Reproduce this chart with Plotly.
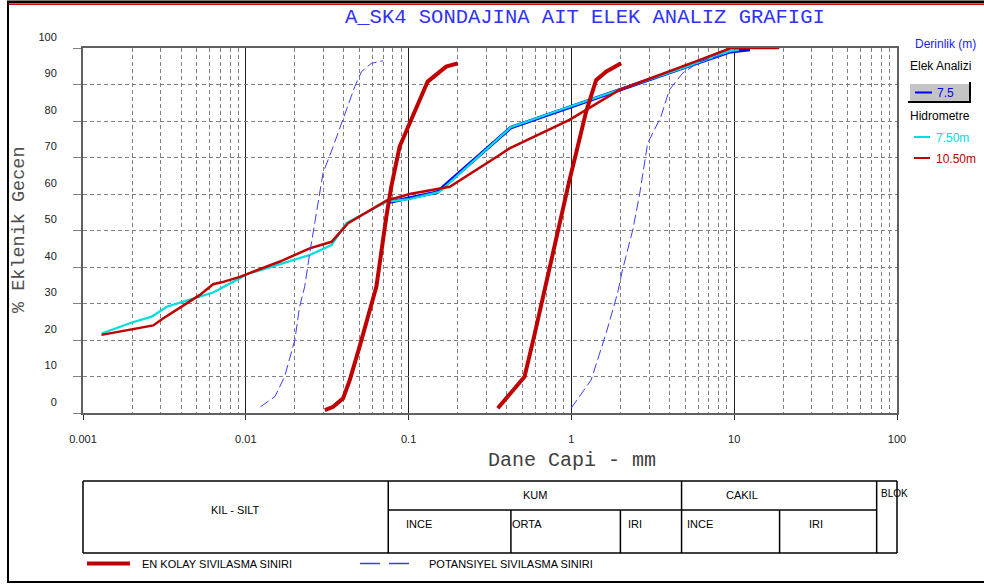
import math
import plotly.graph_objects as go

# ---- data: grain size (mm) vs percent passing ----
# Hydrometer + sieve, 7.50 m
hyd_750_d = [0.0013, 0.0020, 0.00264, 0.00327, 0.00433, 0.0063, 0.0092, 0.0101, 0.014,
             0.0247, 0.0336, 0.0415, 0.073, 0.1014, 0.155, 0.196, 0.425, 0.85, 2.0, 4.75, 9.5, 10.7]
hyd_750_p = [21.8, 24.8, 26.4, 29.1, 30.8, 33.0, 36.9, 38.0, 39.9,
             43.3, 46.0, 52.0, 57.9, 58.6, 60.6, 64.7, 78.3, 83.0, 88.6, 94.4, 99.2, 99.5]

# Hydrometer + sieve, 10.50 m
hyd_1050_d = [0.0013, 0.0020, 0.0027, 0.0031, 0.0044, 0.0052, 0.0063, 0.0071, 0.0092,
              0.0162, 0.0247, 0.0336, 0.0425, 0.073, 0.1014, 0.179, 0.362, 0.417, 0.973,
              1.97, 6.10, 9.55, 18.9]
hyd_1050_p = [21.4, 22.9, 24.0, 25.9, 30.1, 32.3, 35.3, 35.8, 37.3,
              41.5, 45.1, 46.9, 52.0, 58.2, 60.0, 62.0, 70.7, 72.5, 80.3,
              88.5, 96.7, 100.0, 100.0]

# Sieve analysis, 7.5 m
sieve_75_d = [0.075, 0.15, 0.425, 0.85, 2.0, 4.75, 9.5, 12.5]
sieve_75_p = [57.7, 60.5, 78.2, 82.9, 88.6, 94.4, 99.0, 99.6]

# "Most liquefiable" band limits
easy_left_d = [0.0306, 0.0344, 0.0396, 0.0435, 0.0500, 0.0576, 0.0634, 0.0730, 0.0783,
               0.0881, 0.1014, 0.131, 0.170, 0.200]
easy_left_p = [0.8, 1.7, 4.0, 9.0, 18.2, 28.2, 34.6, 53.8, 62.0, 73.0, 79.4, 90.8, 94.9, 95.8]
easy_right_d = [0.353, 0.515, 0.593, 0.733, 0.824, 0.973, 1.069, 1.231, 1.418, 1.633, 2.02]
easy_right_p = [1.3, 9.9, 21.4, 40.1, 49.7, 63.8, 71.2, 82.5, 91.2, 93.5, 95.8]

# "Potentially liquefiable" band limits
pot_left_d = [0.0123, 0.0151, 0.0173, 0.0186, 0.0200, 0.0214, 0.0230, 0.0247, 0.0298,
              0.0344, 0.0386, 0.0467, 0.0513, 0.0591, 0.0695]
pot_left_p = [1.7, 4.5, 9.9, 15.0, 20.0, 29.1, 34.6, 43.8, 65.7, 73.0, 79.4, 89.4, 93.5, 95.8, 96.5]
pot_right_d = [0.996, 1.32, 1.633, 1.92, 2.06, 2.38, 2.61, 2.94, 3.55, 3.99, 4.82, 6.10, 9.31]
pot_right_p = [1.3, 9.0, 21.8, 32.8, 39.2, 50.1, 59.3, 73.9, 81.2, 88.5, 93.1, 96.2, 98.7]

# axis labels
x_tick_vals = [0.001, 0.01, 0.1, 1, 10, 100]
x_tick_text = ["0.001", "0.01", "0.1", "1", "10", "100"]
y_tick_vals = list(range(0, 101, 10))
y_tick_text = [str(v) for v in y_tick_vals]

# soil classification limits (mm) for the table under the chart
LIM_SILT = 0.075
LIM_FINE_SAND = 0.425
LIM_MED_SAND = 2.0
LIM_SAND = 4.75
LIM_FINE_GRAVEL = 19.0
LIM_GRAVEL = 75.0

# ---- page geometry (pixels) ----
W, H = 984, 585
L, R, T, B = 83, 897, 48, 413


def px(x):
    return (x - L) / (R - L)


def py(y):
    return (B - y) / (B - T)


def dx(d):
    """Grain size (mm) to paper x on the log axis."""
    return (math.log10(d) + 3) / 5


RED = "#c00000"
CYAN = "#00dede"
BLUE = "#0000ff"
DASHBLUE = "#3c3cff"
GRID = "#808080"
FONT = "Arial, Liberation Sans, sans-serif"
MONO = "Courier New, Liberation Mono, monospace"

fig = go.Figure()

fig.add_trace(go.Scatter(x=sieve_75_d, y=sieve_75_p, mode="lines",
                         line=dict(color=BLUE, width=3.5), name="7.5"))
fig.add_trace(go.Scatter(x=hyd_750_d, y=hyd_750_p, mode="lines",
                         line=dict(color=CYAN, width=2.2), name="7.50m"))
fig.add_trace(go.Scatter(x=hyd_1050_d, y=hyd_1050_p, mode="lines",
                         line=dict(color=RED, width=2.5), name="10.50m"))
for xs, ys in [(pot_left_d, pot_left_p), (pot_right_d, pot_right_p)]:
    fig.add_trace(go.Scatter(x=xs, y=ys, mode="lines",
                             line=dict(color=DASHBLUE, width=1, dash="10px,4px"),
                             name="POTANSIYEL SIVILASMA SINIRI"))
for xs, ys in [(easy_left_d, easy_left_p), (easy_right_d, easy_right_p)]:
    fig.add_trace(go.Scatter(x=xs, y=ys, mode="lines",
                             line=dict(color=RED, width=4),
                             name="EN KOLAY SIVILASMA SINIRI"))

minor_vals = [m * 10 ** e for e in range(-3, 2) for m in range(2, 10)]

fig.update_xaxes(
    type="log", range=[-3, 2],
    tickvals=x_tick_vals, ticktext=x_tick_text,
    ticks="outside", ticklen=5, tickcolor="#303030", tickwidth=1,
    showgrid=True, gridcolor="#202020", gridwidth=1,
    minor=dict(tickvals=minor_vals, showgrid=True, gridcolor=GRID,
               griddash="4px,3px", gridwidth=1, ticks=""),
    showline=True, linecolor="#606060", linewidth=2, mirror=True,
    zeroline=False, ticklabelstandoff=10,
    tickfont=dict(family=FONT, size=11, color="#202020"),
)
fig.update_yaxes(
    range=[0, 100], tickvals=y_tick_vals, ticktext=y_tick_text,
    ticks="outside", ticklen=8, tickcolor=GRID,
    showgrid=True, gridcolor=GRID, griddash="4px,3px", gridwidth=1,
    showline=True, linecolor="#606060", linewidth=2, mirror=True,
    zeroline=False, ticklabelshift=-11, ticklabelstandoff=14,
    tickfont=dict(family=FONT, size=11, color="#202020"),
)

shapes = []
ann = []


def hline(x0, x1, y, color="black", width=1, dash=None):
    shapes.append(dict(type="line", xref="paper", yref="paper",
                       x0=x0, x1=x1, y0=py(y), y1=py(y),
                       line=dict(color=color, width=width, dash=dash)))


def vline(x, y0, y1, color="black", width=1):
    shapes.append(dict(type="line", xref="paper", yref="paper",
                       x0=x, x1=x, y0=py(y0), y1=py(y1),
                       line=dict(color=color, width=width)))


def text(s, x, y, color="black", size=11, family=FONT, xanchor="center", **kw):
    ann.append(dict(text=s, xref="paper", yref="paper", x=x, y=py(y),
                    xanchor=xanchor, yanchor="middle", showarrow=False,
                    font=dict(family=family, size=size, color=color), **kw))


# page frame
hline(px(7), px(W + 2), 2, color="black", width=3)
hline(px(7), px(W + 2), 4.5, color="#e00000", width=1)
hline(px(7), px(W + 2), 582, color="black", width=2)
vline(px(8), 2, 582, color="black", width=2)

# titles
text("A_SK4 SONDAJINA AIT ELEK ANALIZ GRAFIGI", px(585), 18, color="#3030ff", size=20.5, family=MONO)
text("Dane Capi - mm", px(572), 460, color="#404040", size=20, family=MONO)
text("% Eklenik Gecen", px(20), 230, color="#505050", size=18.5, family=MONO, textangle=-90)

# right-hand key
text("Derinlik (m)", px(913), 44, color="#2020ff", size=12, xanchor="left")
text("Elek Analizi", px(908), 66, color="black", size=12, xanchor="left")
shapes.append(dict(type="rect", xref="paper", yref="paper",
                   x0=px(908), x1=px(971), y0=py(103), y1=py(82),
                   fillcolor="#c4c4c4", line=dict(width=0)))
hline(px(908), px(971), 83, color="white", width=2)
vline(px(909), 82, 103, color="white", width=2)
hline(px(908), px(971), 102, color="black", width=2)
vline(px(970), 82, 103, color="black", width=2)
hline(px(915), px(932), 92.5, color=BLUE, width=2)
text("7.5", px(935), 93, color=BLUE, size=12, xanchor="left")
text("Hidrometre", px(908), 116, color="black", size=12, xanchor="left")
hline(px(914), px(930), 137, color=CYAN, width=2)
text("7.50m", px(934), 138, color=CYAN, size=12, xanchor="left")
hline(px(914), px(930), 158, color=RED, width=2)
text("10.50m", px(934), 159, color=RED, size=12, xanchor="left")

# classification table
t_top, t_mid, t_bot = 481, 510, 553
hline(0, 1, t_top, width=1.5)
hline(0, 1, t_bot, width=1.5)
hline(dx(LIM_SILT), dx(LIM_GRAVEL), t_mid, width=1.5)
vline(0, t_top, t_bot, width=1.5)
vline(1, t_top, t_bot, width=1.5)
for lim in (LIM_SILT, LIM_SAND, LIM_GRAVEL):
    vline(dx(lim), t_top, t_bot, width=1.5)
for lim in (LIM_FINE_SAND, LIM_MED_SAND, LIM_FINE_GRAVEL):
    vline(dx(lim), t_mid, t_bot, width=1.5)

text("KIL - SILT", (0 + dx(LIM_SILT)) / 2, 510)
text("KUM", (dx(LIM_SILT) + dx(LIM_SAND)) / 2, 495)
text("CAKIL", px(742), 495)
text("BLOK", px(879), 493, size=10, xanchor="left")
text("INCE", px(404), 524, xanchor="left")
text("ORTA", px(510), 524, xanchor="left")
text("IRI", px(626), 524, xanchor="left")
text("INCE", px(685), 524, xanchor="left")
text("IRI", px(807), 524, xanchor="left")

# band key
hline(px(87), px(130), 563.5, color=RED, width=4)
text("EN KOLAY SIVILASMA SINIRI", px(140), 564, xanchor="left")
hline(px(360), px(410), 563.5, color=DASHBLUE, width=1.3, dash="20px,9px")
text("POTANSIYEL SIVILASMA SINIRI", px(427), 564, xanchor="left")

fig.update_layout(
    width=W, height=H,
    margin=dict(l=L, r=W - R, t=T, b=H - B, pad=0),
    paper_bgcolor="white", plot_bgcolor="white",
    showlegend=False,
    shapes=shapes, annotations=ann,
)

fig.write_html("out.html")
